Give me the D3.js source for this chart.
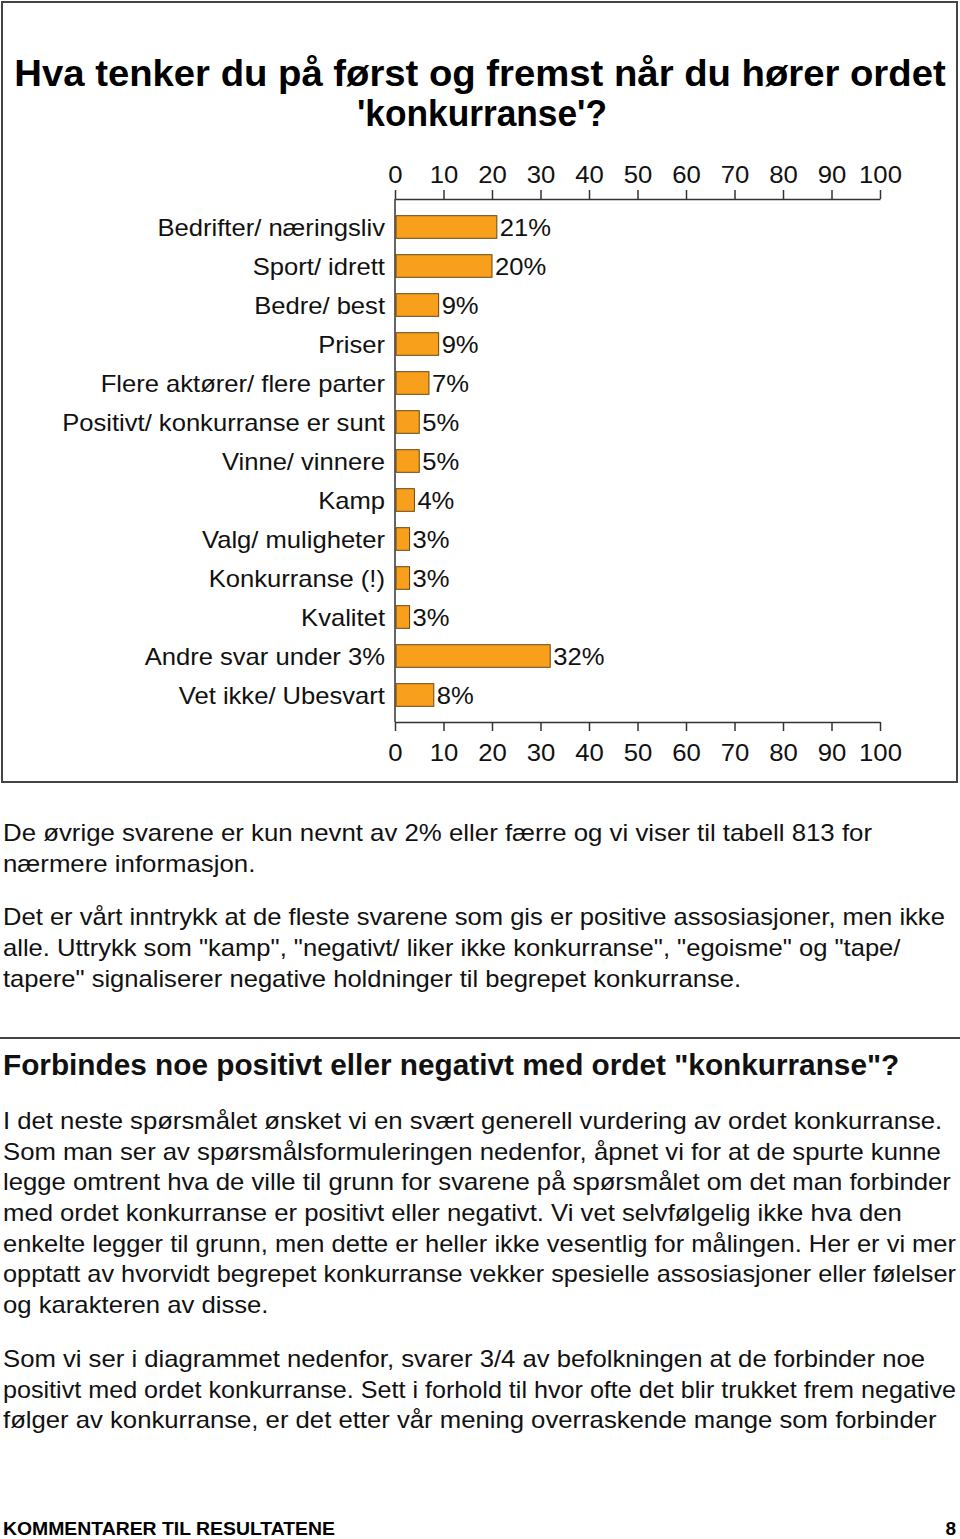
<!DOCTYPE html>
<html>
<head>
<meta charset="utf-8">
<script src="https://cdn.jsdelivr.net/npm/d3@7"></script>
<style>
  html, body { margin: 0; padding: 0; background: #fff; }
  svg { display: block; font-family: "Liberation Sans", Arial, Helvetica, sans-serif; }
</style>
</head>
<body>
<svg id="page" width="960" height="1539"></svg>
<script>
const categories = [
  "Bedrifter/ næringsliv", "Sport/ idrett", "Bedre/ best", "Priser",
  "Flere aktører/ flere parter", "Positivt/ konkurranse er sunt", "Vinne/ vinnere",
  "Kamp", "Valg/ muligheter", "Konkurranse (!)", "Kvalitet",
  "Andre svar under 3%", "Vet ikke/ Ubesvart"
];
const values = [21, 20, 9, 9, 7, 5, 5, 4, 3, 3, 3, 32, 8];
const tickValues = [0, 10, 20, 30, 40, 50, 60, 70, 80, 90, 100];

const titleLines = ["Hva tenker du på først og fremst når du hører ordet", "'konkurranse'?"];
const note1 = [
  "De øvrige svarene er kun nevnt av 2% eller færre og vi viser til tabell 813 for",
  "nærmere informasjon."
];
const note2 = [
  "Det er vårt inntrykk at de fleste svarene som gis er positive assosiasjoner, men ikke",
  "alle. Uttrykk som \"kamp\", \"negativt/ liker ikke konkurranse\", \"egoisme\" og \"tape/",
  "tapere\" signaliserer negative holdninger til begrepet konkurranse."
];
const heading2 = "Forbindes noe positivt eller negativt med ordet \"konkurranse\"?";
const para1 = [
  "I det neste spørsmålet ønsket vi en svært generell vurdering av ordet konkurranse.",
  "Som man ser av spørsmålsformuleringen nedenfor, åpnet vi for at de spurte kunne",
  "legge omtrent hva de ville til grunn for svarene på spørsmålet om det man forbinder",
  "med ordet konkurranse er positivt eller negativt. Vi vet selvfølgelig ikke hva den",
  "enkelte legger til grunn, men dette er heller ikke vesentlig for målingen. Her er vi mer",
  "opptatt av hvorvidt begrepet konkurranse vekker spesielle assosiasjoner eller følelser",
  "og karakteren av disse."
];
const para2 = [
  "Som vi ser i diagrammet nedenfor, svarer 3/4 av befolkningen at de forbinder noe",
  "positivt med ordet konkurranse. Sett i forhold til hvor ofte det blir trukket frem negative",
  "følger av konkurranse, er det etter vår mening overraskende mange som forbinder"
];
const footerLeft = "KOMMENTARER TIL RESULTATENE";
const footerRight = "8";

const svg = d3.select("#page");

// Widen glyphs horizontally to match the reference's wider Helvetica rendering
function stretch(sel, factor, maxW) {
  sel.each(function () {
    const w = this.getComputedTextLength();
    let t = w * factor;
    if (maxW && t > maxW) t = maxW;
    d3.select(this).attr("textLength", t).attr("lengthAdjust", "spacingAndGlyphs");
  });
}

// Chart frame
svg.append("rect").attr("x", 2).attr("y", 2).attr("width", 955).attr("height", 780)
  .attr("fill", "none").attr("stroke", "#444").attr("stroke-width", 2);

// Title
const titleG = svg.append("g");
titleG.append("text").attr("x", 480).attr("y", 86)
  .attr("text-anchor", "middle").attr("font-weight", "bold").attr("font-size", 36)
  .attr("fill", "#000").text(titleLines[0]).call(stretch, 1.063);
titleG.append("text").attr("x", 482).attr("y", 126)
  .attr("text-anchor", "middle").attr("font-weight", "bold").attr("font-size", 36)
  .attr("fill", "#000").text(titleLines[1]).call(stretch, 0.98);

// Scales
const x = d3.scaleLinear().domain([0, 100]).range([395, 880]);
const y = d3.scaleBand().domain(categories).range([207.5, 714.5]).paddingInner(0.42).paddingOuter(0.21);

const axisTopY = 199, axisBotY = 722;

const gTop = svg.append("g").attr("transform", `translate(0,${axisTopY})`)
  .call(d3.axisTop(x).tickValues(tickValues).tickSize(9).tickSizeOuter(0).tickPadding(7));
const gBot = svg.append("g").attr("transform", `translate(0,${axisBotY})`)
  .call(d3.axisBottom(x).tickValues(tickValues).tickSize(9).tickSizeOuter(0).tickPadding(13));
[gTop, gBot].forEach(g => {
  g.select(".domain").attr("stroke", "#333").attr("stroke-width", 1.5);
  g.selectAll(".tick line").attr("stroke", "#333").attr("stroke-width", 1.5);
  g.selectAll(".tick text").attr("font-size", 24).attr("fill", "#111")
    .attr("font-family", "Liberation Sans, Arial, sans-serif")
    .call(stretch, 1.07);
});

// Vertical axis line
svg.append("line").attr("x1", x(0)).attr("x2", x(0)).attr("y1", axisTopY).attr("y2", axisBotY)
  .attr("stroke", "#333").attr("stroke-width", 1.5);

// Bars
svg.append("g").selectAll("rect").data(values).join("rect")
  .attr("x", x(0) + 1)
  .attr("y", (d, i) => y(categories[i]))
  .attr("width", d => x(d) - x(0) - 1)
  .attr("height", y.bandwidth())
  .attr("fill", "#F8A01C").attr("stroke", "#6b4512").attr("stroke-width", 1);

// Value labels
svg.append("g").selectAll("text").data(values).join("text")
  .attr("x", d => x(d) + 3)
  .attr("y", (d, i) => y(categories[i]) + y.bandwidth() / 2 + 9)
  .attr("font-size", 24).attr("fill", "#111").text(d => d + "%")
  .call(stretch, 1.066);

// Category labels
svg.append("g").selectAll("text").data(categories).join("text")
  .attr("x", 385).attr("y", d => y(d) + y.bandwidth() / 2 + 9)
  .attr("text-anchor", "end").attr("font-size", 24).attr("fill", "#111").text(d => d)
  .call(stretch, 1.066);

// Text below chart
function lines(arr, startY, lh, size, weight, factor) {
  svg.append("g").selectAll("text").data(arr).join("text")
    .attr("x", 3).attr("y", (d, i) => startY + i * lh)
    .attr("font-size", size).attr("font-weight", weight || "normal")
    .attr("fill", "#111").text(d => d)
    .call(stretch, factor, 953);
}
lines(note1, 841, 31, 24, "normal", 1.075);
lines(note2, 925, 31, 24, "normal", 1.065);

svg.append("line").attr("x1", 0).attr("x2", 960).attr("y1", 1038).attr("y2", 1038)
  .attr("stroke", "#444").attr("stroke-width", 2);

lines([heading2], 1075, 0, 29, "bold", 1.026);
lines(para1, 1129, 30.67, 24, "normal", 1.07);
lines(para2, 1367, 30.67, 24, "normal", 1.07);

svg.append("text").attr("x", 3).attr("y", 1535).attr("font-size", 19).attr("font-weight", "bold")
  .attr("fill", "#000").text(footerLeft).call(stretch, 1.02);
svg.append("text").attr("x", 956).attr("y", 1535).attr("text-anchor", "end").attr("font-size", 19)
  .attr("font-weight", "bold").attr("fill", "#000").text(footerRight);
</script>
</body>
</html>
